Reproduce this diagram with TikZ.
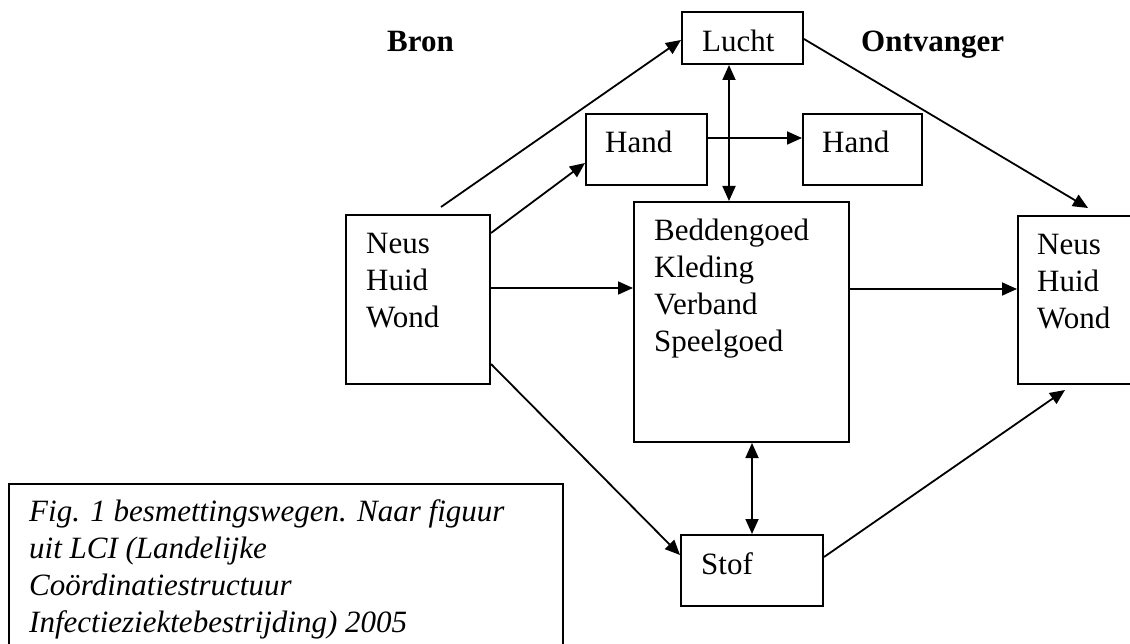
\documentclass[tikz,border=0pt]{standalone}
\usepackage{fontspec}
\setmainfont{Liberation Serif}
\usetikzlibrary{arrows.meta}
\begin{document}
\begin{tikzpicture}[x=1pt,y=-1pt,
  box/.style={draw, line width=2pt, inner sep=0pt, anchor=north west},
  txt/.style={inner sep=0pt, anchor=base west, font=\fontsize{31}{37}\selectfont},
  hdr/.style={txt, font=\fontsize{31}{37}\selectfont\bfseries},
  conn/.style={line width=1.8pt, -{Triangle[length=15pt,width=13pt]}},
  dconn/.style={line width=1.8pt, {Triangle[length=15pt,width=13pt]}-{Triangle[length=15pt,width=13pt]}}]
\useasboundingbox (0,0) rectangle (1130,644);
\clip (0,0) rectangle (1130,644);
% boxes
\node[box, minimum width=121pt, minimum height=52pt] (lucht) at (681,11) {};
\node[box, minimum width=121pt, minimum height=71pt] (handL) at (585,113) {};
\node[box, minimum width=119pt, minimum height=71pt] (handR) at (802,113) {};
\node[box, minimum width=215pt, minimum height=240pt] (big) at (633,201) {};
\node[box, minimum width=144pt, minimum height=169pt] (neusL) at (345,214) {};
\node[box, minimum width=140pt, minimum height=168pt] (neusR) at (1017,215) {};
\node[box, minimum width=142pt, minimum height=71pt] (stof) at (680,534) {};
\node[box, minimum width=554pt, minimum height=200pt] (caption) at (8,483) {};
% texts
\node[hdr] (bron) at (387,52) {Bron};
\node[hdr] (ontv) at (861,52) {Ontvanger};
\node[txt] (luchtT) at (702,52) {Lucht};
\node[txt] (handLT) at (605,153) {Hand};
\node[txt] (handRT) at (822,153) {Hand};
\node[txt] (bigT) at (654,241) {\begin{tabular}[t]{@{}l@{}}Beddengoed\\Kleding\\Verband\\Speelgoed\end{tabular}};
\node[txt] (neusLT) at (366,254) {\begin{tabular}[t]{@{}l@{}}Neus\\Huid\\Wond\end{tabular}};
\node[txt] (neusRT) at (1037,255) {\begin{tabular}[t]{@{}l@{}}Neus\\Huid\\Wond\end{tabular}};
\node[txt] (stofT) at (701,574) {Stof};
\node[txt, font=\fontsize{31}{37.3}\selectfont\itshape] (capT) at (29,521) {\begin{tabular}[t]{@{}l@{}}Fig. 1 besmettingswegen. Naar figuur\\uit LCI (Landelijke\\Co\"ordinatiestructuur\\Infectieziektebestrijding) 2005\end{tabular}};
% connector end points
\coordinate (nlTop) at (441,207);
\coordinate (luchtIn) at (lucht.north west |- 0,40);
\coordinate (luchtOut) at (lucht.north east |- 0,39);
\coordinate (nlA) at (neusL.north east |- 0,233);
\coordinate (handIn) at (handL.north west |- 0,163);
\coordinate (nlB) at (neusL.north east |- 0,288);
\coordinate (bigIn) at (big.north west |- 0,288);
\coordinate (nlC) at (neusL.north east |- 0,364);
\coordinate (stofIn) at (stof.north west |- 0,555);
\coordinate (hlOut) at (handL.north east |- 0,138);
\coordinate (hrIn) at (handR.north west |- 0,138);
\coordinate (bigOut) at (big.north east |- 0,289);
\coordinate (nrIn) at (neusR.north west |- 0,289);
\coordinate (nrTop) at (1088,208);
\coordinate (nrBot) at (1065,390);
\coordinate (stofOut) at (stof.north east |- 0,557);
% connectors
\draw[conn] (nlTop) -- (luchtIn);
\draw[conn] (nlA) -- (handIn);
\draw[conn] (nlB) -- (bigIn);
\draw[conn] (nlC) -- (stofIn);
\draw[dconn] (lucht.south -| 729,0) -- (big.north -| 729,0);
\draw[conn] (hlOut) -- (hrIn);
\draw[conn] (luchtOut) -- (nrTop);
\draw[conn] (bigOut) -- (nrIn);
\draw[dconn] (big.south -| 752,0) -- (stof.north -| 752,0);
\draw[conn] (stofOut) -- (nrBot);
\end{tikzpicture}
\end{document}
